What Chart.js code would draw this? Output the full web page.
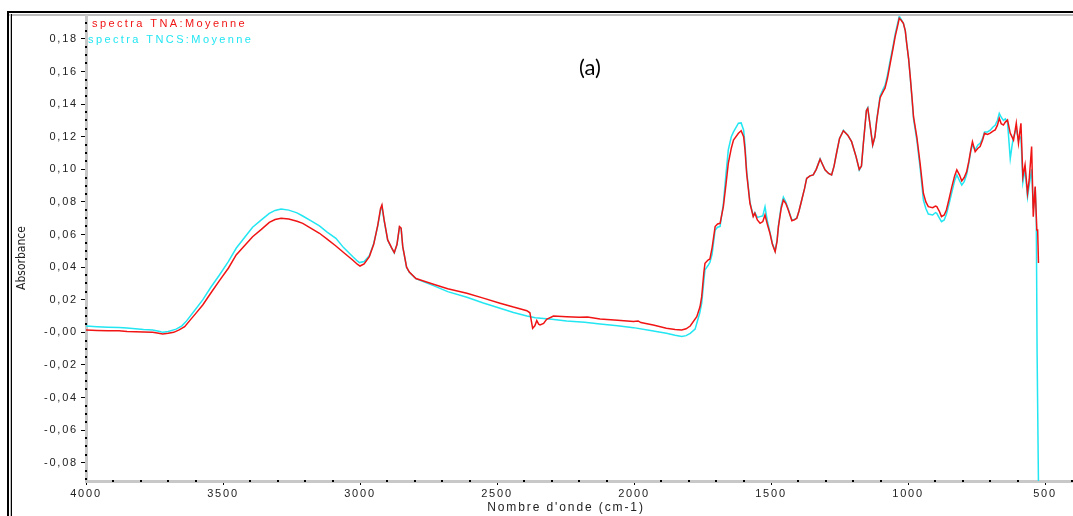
<!DOCTYPE html>
<html><head><meta charset="utf-8">
<script src="https://cdn.jsdelivr.net/npm/chart.js@4.4.1/dist/chart.umd.min.js"></script>
<style>html,body{margin:0;padding:0;background:#fff;overflow:hidden}canvas{display:block}</style>
</head><body>
<canvas id="c" width="1073" height="516"></canvas>
<script>
const seriesLabels = ['spectra TNA:Moyenne', 'spectra TNCS:Moyenne'];
const seriesColors = ['#f01414', '#22e6f2'];

const wnTNA = [4000,3960,3920,3880,3850,3820,3790,3757,3740,3720,3700,3680,3660,3640,3620,3600,3574,3545,3513,3480,3452,3420,3392,3360,3331,3310,3288,3260,3230,3209,3180,3148,3120,3088,3060,3027,3010,3000,2985,2966,2950,2935,2925,2920,2912,2899,2885,2875,2865,2856,2850,2844,2830,2820,2796,2760,2732,2680,2610,2550,2489,2440,2391,2380,2370,2362,2355,2348,2343,2330,2319,2294,2246,2200,2170,2124,2060,2002,1985,1975,1930,1882,1850,1826,1810,1795,1771,1759,1753,1745,1741,1730,1723,1715,1704,1695,1686,1674,1665,1656,1645,1637,1619,1609,1600,1595,1589,1577,1565,1559,1550,1540,1530,1522,1513,1504,1495,1485,1478,1473,1463,1455,1446,1437,1424,1415,1406,1398,1388,1378,1370,1358,1346,1335,1321,1312,1303,1290,1279,1270,1261,1250,1236,1220,1206,1190,1178,1170,1163,1152,1147,1140,1129,1121,1114,1102,1090,1084,1075,1065,1055,1047,1038,1032,1025,1017,1010,1005,998,992,985,980,968,956,944,935,926,910,900,895,885,878,868,860,850,840,830,822,812,804,795,786,778,771,765,755,745,737,728,721,710,700,690,682,674,667,660,652,645,637,627,615,610,605,597,592,588,581,573,564,558,549,543,536,530,527,524];
const absTNA = [0.0015,0.0012,0.0010,0.0010,0.0006,0.0004,0.0002,0.0000,-0.0004,-0.0010,-0.0006,0.0000,0.0015,0.0035,0.0075,0.0115,0.0168,0.0240,0.0317,0.0395,0.0475,0.0535,0.0587,0.0632,0.0675,0.0692,0.0700,0.0695,0.0682,0.0669,0.0640,0.0608,0.0572,0.0530,0.0490,0.0444,0.0418,0.0407,0.0420,0.0465,0.0540,0.0660,0.0760,0.0782,0.0690,0.0567,0.0520,0.0489,0.0540,0.0649,0.0640,0.0526,0.0400,0.0370,0.0330,0.0310,0.0295,0.0268,0.0240,0.0210,0.0179,0.0155,0.0133,0.0120,0.0025,0.0040,0.0072,0.0050,0.0045,0.0055,0.0080,0.0100,0.0096,0.0092,0.0094,0.0082,0.0074,0.0066,0.0070,0.0060,0.0045,0.0025,0.0018,0.0015,0.0022,0.0039,0.0096,0.0158,0.0219,0.0370,0.0424,0.0444,0.0450,0.0520,0.0649,0.0665,0.0669,0.0771,0.0900,0.1037,0.1130,0.1180,0.1222,0.1237,0.1200,0.1120,0.0976,0.0792,0.0710,0.0731,0.0690,0.0669,0.0680,0.0720,0.0660,0.0608,0.0540,0.0495,0.0560,0.0649,0.0760,0.0812,0.0790,0.0751,0.0685,0.0690,0.0700,0.0745,0.0812,0.0880,0.0945,0.0960,0.0966,0.1000,0.1062,0.1030,0.0997,0.0975,0.0966,0.1020,0.1099,0.1190,0.1237,0.1210,0.1170,0.1080,0.1000,0.1020,0.1160,0.1360,0.1375,0.1290,0.1150,0.1200,0.1303,0.1440,0.1480,0.1498,0.1560,0.1651,0.1740,0.1814,0.1880,0.1927,0.1915,0.1896,0.1850,0.1774,0.1680,0.1569,0.1430,0.1323,0.1200,0.1037,0.0853,0.0800,0.0771,0.0765,0.0775,0.0771,0.0740,0.0710,0.0720,0.0751,0.0820,0.0894,0.0960,0.0997,0.0965,0.0929,0.0950,0.0986,0.1050,0.1120,0.1170,0.1109,0.1130,0.1140,0.1180,0.1222,0.1215,0.1222,0.1235,0.1242,0.1270,0.1313,0.1280,0.1272,0.1290,0.1303,0.1222,0.1180,0.1230,0.1283,0.1160,0.1230,0.1283,0.0955,0.1028,0.0853,0.0935,0.1140,0.0710,0.0894,0.0628,0.0628,0.0426];

const wnTNCS = [4000,3960,3920,3880,3850,3820,3790,3757,3730,3720,3700,3671,3650,3635,3610,3574,3545,3513,3480,3452,3420,3392,3360,3331,3310,3288,3260,3230,3209,3180,3148,3120,3088,3060,3027,3010,3002,2985,2966,2950,2935,2925,2920,2912,2899,2885,2875,2865,2856,2850,2844,2830,2820,2796,2760,2732,2680,2610,2550,2489,2440,2391,2360,2300,2246,2180,2124,2060,2002,1940,1882,1850,1826,1810,1795,1777,1771,1760,1753,1745,1741,1730,1723,1715,1704,1695,1686,1674,1665,1656,1645,1637,1619,1609,1600,1595,1589,1577,1565,1559,1550,1540,1530,1522,1513,1504,1495,1485,1478,1473,1463,1455,1446,1437,1424,1415,1406,1398,1388,1378,1370,1358,1346,1335,1321,1312,1303,1290,1279,1270,1261,1250,1236,1220,1206,1190,1178,1170,1163,1152,1147,1140,1129,1121,1114,1102,1090,1084,1075,1065,1055,1047,1038,1032,1025,1017,1010,1005,998,992,985,980,968,956,944,935,926,910,900,895,885,878,868,860,850,840,830,822,812,804,795,786,778,771,765,755,745,737,728,721,710,700,690,682,674,667,660,652,645,637,627,620,615,605,597,588,581,573,564,558,549,543,536,532,529,526,524];
const absTNCS = [0.0039,0.0035,0.0032,0.0030,0.0026,0.0022,0.0018,0.0015,0.0005,0.0000,0.0005,0.0020,0.0040,0.0066,0.0120,0.0199,0.0275,0.0352,0.0435,0.0516,0.0585,0.0645,0.0690,0.0730,0.0748,0.0757,0.0750,0.0733,0.0714,0.0685,0.0653,0.0615,0.0577,0.0520,0.0465,0.0438,0.0428,0.0435,0.0470,0.0545,0.0655,0.0750,0.0772,0.0685,0.0565,0.0518,0.0487,0.0538,0.0645,0.0636,0.0524,0.0398,0.0368,0.0330,0.0305,0.0287,0.0250,0.0215,0.0180,0.0148,0.0122,0.0100,0.0090,0.0080,0.0070,0.0062,0.0052,0.0040,0.0029,0.0012,-0.0006,-0.0018,-0.0026,-0.0020,-0.0006,0.0020,0.0056,0.0120,0.0179,0.0320,0.0383,0.0410,0.0430,0.0480,0.0628,0.0645,0.0650,0.0790,0.0960,0.1120,0.1200,0.1230,0.1283,0.1285,0.1240,0.1150,0.0990,0.0800,0.0715,0.0735,0.0705,0.0710,0.0715,0.0771,0.0680,0.0615,0.0545,0.0500,0.0565,0.0655,0.0775,0.0830,0.0800,0.0755,0.0690,0.0692,0.0702,0.0745,0.0812,0.0880,0.0945,0.0960,0.0966,0.1000,0.1065,0.1030,0.0997,0.0975,0.0966,0.1020,0.1099,0.1190,0.1240,0.1210,0.1170,0.1080,0.0995,0.1020,0.1160,0.1362,0.1378,0.1290,0.1148,0.1200,0.1308,0.1450,0.1495,0.1515,0.1580,0.1670,0.1755,0.1830,0.1895,0.1940,0.1920,0.1896,0.1850,0.1774,0.1680,0.1565,0.1420,0.1310,0.1180,0.1010,0.0812,0.0760,0.0726,0.0720,0.0735,0.0730,0.0700,0.0679,0.0690,0.0725,0.0790,0.0860,0.0930,0.0966,0.0930,0.0904,0.0925,0.0970,0.1040,0.1110,0.1150,0.1120,0.1150,0.1160,0.1190,0.1230,0.1230,0.1240,0.1260,0.1270,0.1300,0.1344,0.1320,0.1300,0.1310,0.1290,0.1065,0.1150,0.1200,0.1250,0.1180,0.1200,0.0920,0.1000,0.0830,0.0900,0.1000,0.0760,0.0890,0.0700,-0.0127,-0.0127,-0.0930];

const xTickValues = [4000,3500,3000,2500,2000,1500,1000,500];
const yTickValues = [0.18,0.16,0.14,0.12,0.10,0.08,0.06,0.04,0.02,0.00,-0.02,-0.04,-0.06,-0.08];
const xTitle = "Nombre d'onde (cm-1)";
const yTitle = 'Absorbance';
const panelLabel = '(a)';

function pairs(xs, ys) { return xs.map((x, i) => ({x: x, y: ys[i]})); }

const framePlugin = {
  id: 'frame',
  beforeDraw(chart) {
    const ctx = chart.ctx;
    ctx.save();
    ctx.fillStyle = '#fff';
    ctx.fillRect(0, 0, chart.width, chart.height);
    ctx.fillStyle = '#000';
    ctx.fillRect(7, 11, chart.width - 7, 2);
    ctx.fillRect(7, 11, 2, chart.height - 11);
    ctx.fillStyle = '#bdbdbd';
    ctx.fillRect(9, 14, chart.width - 9, 2);
    ctx.fillRect(10, 14, 1, chart.height - 14);
    ctx.fillStyle = '#000';
    ctx.fillRect(11, 14, 1, chart.height - 14);
    ctx.restore();
    ctx.letterSpacing = '1.8px';
  },
  afterDraw(chart) {
    const ctx = chart.ctx;
    const xs = chart.scales.x, ys = chart.scales.y;
    ctx.save();
    // minor tick dots
    ctx.fillStyle = '#000';
    const axisY = xs.top;
    for (let v = 3900; v >= 400; v -= 100) {
      if (v % 500 === 0) continue;
      const px = Math.round(xs.getPixelForValue(v));
      ctx.fillRect(px - 1, axisY - 1, 2, 2);
    }
    const axisX = ys.right;
    for (let k = -18; k <= 38; k++) {
      if (k % 4 === 0) continue;
      const v = k * 0.005;
      if (v < ys.min || v > ys.max) continue;
      const py = Math.round(ys.getPixelForValue(v));
      ctx.fillRect(axisX - 1, py - 1, 2, 2);
    }
    // legend texts
    ctx.textBaseline = 'middle';
    ctx.textAlign = 'left';
    ctx.font = '11px "Liberation Sans", Arial, sans-serif';
    ctx.letterSpacing = '2.4px';
    ctx.fillStyle = chart.data.datasets[0].borderColor;
    ctx.fillText(chart.data.datasets[0].label, 92, 24);
    ctx.fillStyle = chart.data.datasets[1].borderColor;
    ctx.fillText(chart.data.datasets[1].label, 88, 40);
    // x title
    ctx.fillStyle = '#222';
    ctx.font = '12px "Liberation Sans", Arial, sans-serif';
    ctx.letterSpacing = '1.9px';
    ctx.textAlign = 'center';
    ctx.fillText(xTitle, 566, 508);
    // y title
    ctx.letterSpacing = '0px';
    ctx.font = '12px "Liberation Sans Narrow", "DejaVu Sans Condensed", sans-serif';
    ctx.save();
    ctx.translate(22, 258);
    ctx.rotate(-Math.PI / 2);
    ctx.fillText(yTitle, 0, 0);
    ctx.restore();
    // panel label
    ctx.fillStyle = '#000';
    ctx.font = '22px Lato, "Open Sans", sans-serif';
    ctx.fillText(panelLabel, 590, 68);
    ctx.restore();
  }
};

new Chart(document.getElementById('c'), {
  type: 'line',
  data: {
    datasets: [
      {label: seriesLabels[0], data: pairs(wnTNA, absTNA), borderColor: seriesColors[0], borderWidth: 1.5, pointRadius: 0, tension: 0, fill: false},
      {label: seriesLabels[1], data: pairs(wnTNCS, absTNCS), borderColor: seriesColors[1], borderWidth: 1.5, pointRadius: 0, tension: 0, fill: false}
    ]
  },
  options: {
    responsive: false,
    animation: false,
    devicePixelRatio: 1,
    layout: {padding: {top: 16, left: 0, right: 0, bottom: 0}},
    plugins: {legend: {display: false}, tooltip: {enabled: false}, title: {display: false}},
    scales: {
      x: {
        type: 'linear', reverse: true, min: 398, max: 4000,
        afterBuildTicks: s => { s.ticks = xTickValues.map(v => ({value: v})); },
        afterFit: s => { s.height = 35; },
        grid: {display: true, drawOnChartArea: false, drawTicks: true, tickLength: 4, tickColor: '#000', tickWidth: 1},
        border: {display: true, color: '#c8c8c8', width: 3},
        ticks: {color: '#222', font: {family: '"Liberation Sans", Arial, sans-serif', size: 11}, padding: 2, maxRotation: 0, autoSkip: false, callback: v => String(v)}
      },
      y: {
        type: 'linear', min: -0.0912, max: 0.1941,
        afterBuildTicks: s => { s.ticks = yTickValues.map(v => ({value: v})); },
        afterFit: s => { s.width = 86; },
        grid: {display: true, drawOnChartArea: false, drawTicks: true, tickLength: 5, tickColor: '#000', tickWidth: 1},
        border: {display: true, color: '#c8c8c8', width: 3},
        ticks: {color: '#222', font: {family: '"Liberation Sans", Arial, sans-serif', size: 11}, padding: 3, autoSkip: false,
          callback: v => Math.abs(v) < 1e-9 ? '-0,00' : v.toFixed(2).replace('.', ',')}
      }
    }
  },
  plugins: [framePlugin]
});
</script>
</body></html>
